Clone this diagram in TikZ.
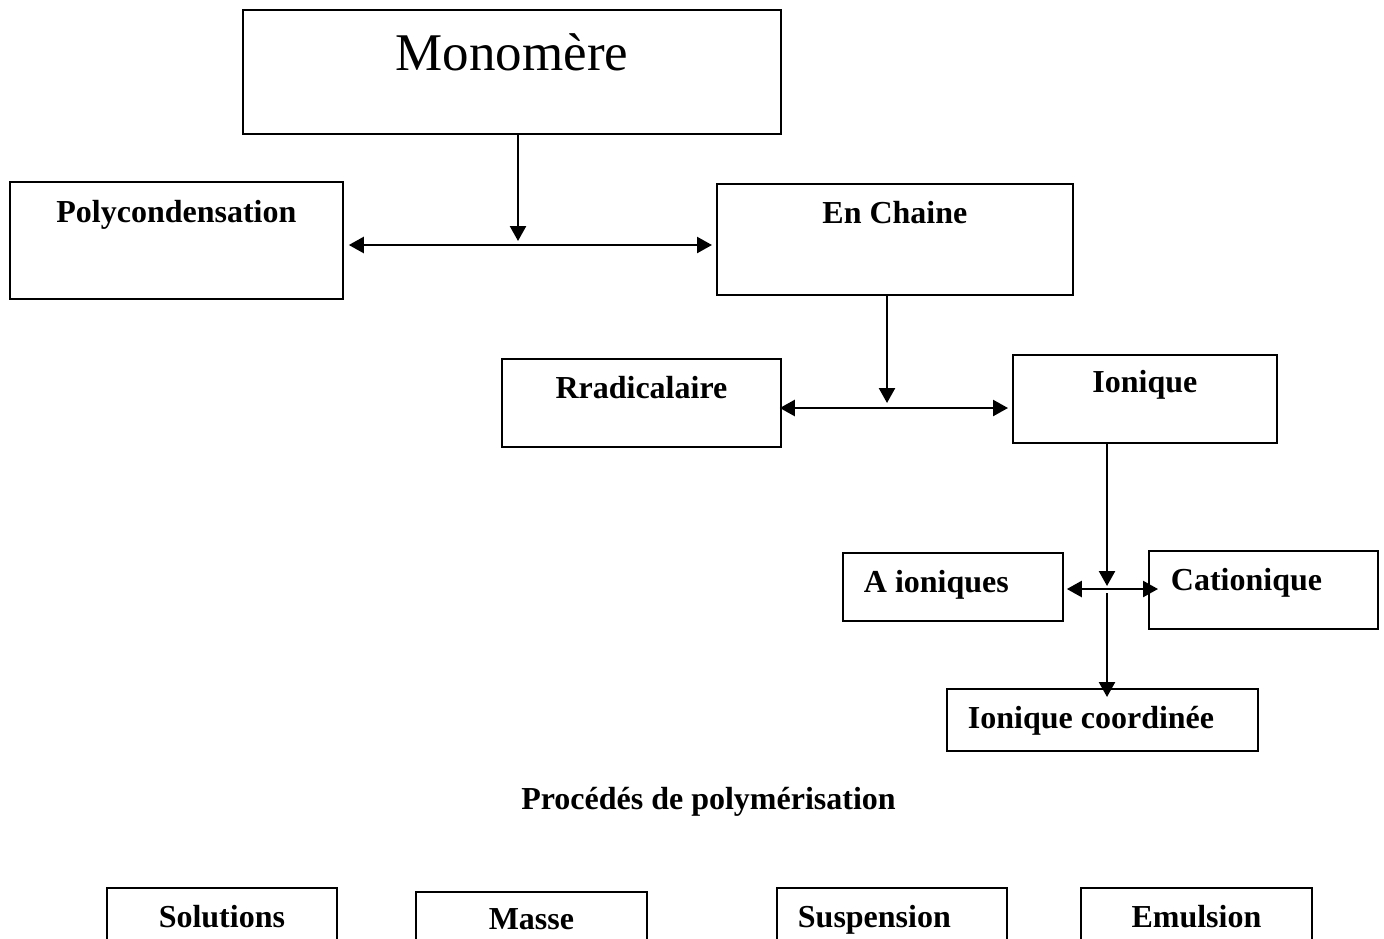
\documentclass[tikz,border=0pt]{standalone}
\usepackage{fontspec}
\setmainfont{Liberation Serif}
\usepackage{tikz}
\usetikzlibrary{arrows.meta}

\begin{document}
\begin{tikzpicture}[
		x=0.5pt, y=-0.5pt,
		boite/.style={draw, line width=0.9pt, inner ysep=0pt, inner xsep=0pt,
			anchor=north west, font=\bfseries\fontsize{16}{19}\selectfont},
		gauche/.style={boite, align=flush left, inner xsep=10.5pt},
		centre/.style={boite, align=flush center},
		fleche/.style={-{Triangle[length=7.5pt,width=8pt]}, line width=1.2pt},
		doublefleche/.style={{Triangle[length=7.5pt,width=8pt]}-{Triangle[length=7.5pt,width=8pt]}, line width=1.2pt}
	]
	\useasboundingbox (0,0) rectangle (1384,938);
	\clip (0,0) rectangle (1384,938);
	
	% types de polymerisation
	\node[centre, font=\fontsize{26.5}{32}\selectfont, text width=269pt,
		text height=30.5pt, text depth=31.5pt] (mono)
		at (242,9) {Monomère};
	
	\node[centre, text width=166.5pt, text height=20.5pt, text depth=38pt] (poly)
		at (9,181) {Polycondensation};
	
	\node[centre, text width=178pt, text height=20pt, text depth=35.5pt] (chaine)
		at (716,183) {En Chaine};
	
	\node[centre, text width=139.5pt, text height=20pt, text depth=24pt] (rad)
		at (501,358) {Rradicalaire};
	
	\node[centre, text width=132pt, text height=19pt, text depth=25pt] (ion)
		at (1012,354) {Ionique};
	
	\node[gauche, text width=89pt, text height=20pt, text depth=14pt] (anion)
		at (842,552) {A ioniques};
	
	\node[gauche, inner xsep=11pt, text width=92.5pt, text height=20pt, text depth=19pt] (cation)
		at (1148,550) {Cationique};
	
	\node[gauche, text width=134.5pt, text height=20pt, text depth=11pt] (coord)
		at (946,688) {Ionique coordinée};
	
	% connecteurs
	\coordinate (j1) at (518,245);
	\coordinate (j2) at (887,408);
	\coordinate (j3) at (1107,589);
	
	\draw[fleche]
		(mono.south -| j1) -- ([yshift=2pt]j1);
	\draw[doublefleche, shorten <=2.5pt, shorten >=2pt]
		(poly.east |- j1) -- (chaine.west |- j1);
	
	\draw[fleche]
		(chaine.south -| j2) -- ([yshift=2.5pt]j2);
	\draw[doublefleche, shorten <=-1pt, shorten >=2pt]
		(rad.east |- j2) -- (ion.west |- j2);
	
	\draw[fleche]
		(ion.south -| j3) -- ([yshift=1.5pt]j3);
	\draw[doublefleche, shorten <=1.5pt, shorten >=-5pt]
		(anion.east |- j3) -- (cation.west |- j3);
	\draw[fleche, shorten >=-4.5pt]
		([yshift=-2pt]j3) -- (coord.north -| j3);
	
	% procedes
	\node[anchor=base, font=\bfseries\fontsize{16}{19}\selectfont] (titre)
		at (708.5,809) {Procédés de polymérisation};
	
	\node[centre, text width=115pt, text height=20pt, text depth=26.5pt] (solution)
		at (106,887) {Solutions};
	
	\node[centre, text width=115.5pt, text height=19pt, text depth=25.5pt] (masse)
		at (415,891) {Masse};
	
	\node[gauche, text width=94pt, text height=20pt, text depth=26.5pt] (suspension)
		at (776,887) {Suspension};
	
	\node[centre, text width=115.5pt, text height=20pt, text depth=26.5pt] (emulsion)
		at (1080,887) {Emulsion};
\end{tikzpicture}
\end{document}
